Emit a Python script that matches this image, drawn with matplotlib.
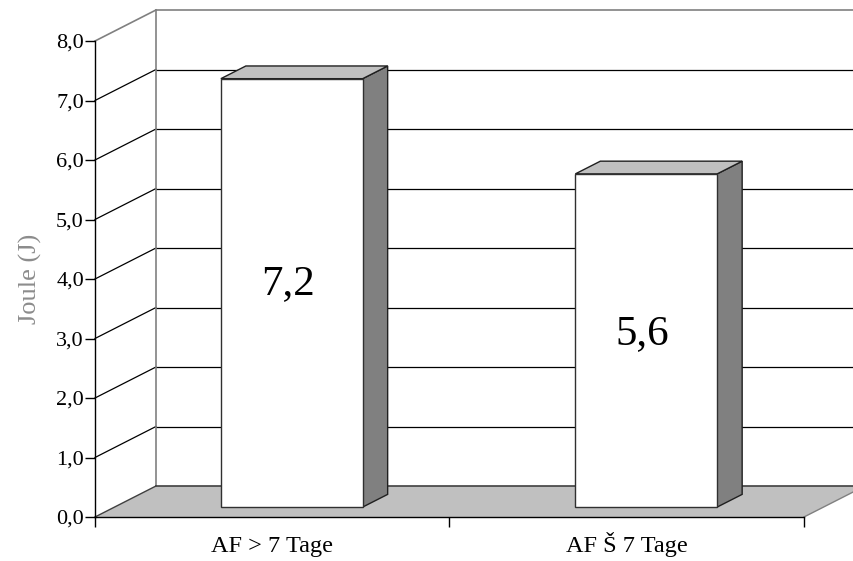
import numpy as np
import matplotlib
matplotlib.use("Agg")
import matplotlib.pyplot as plt
from matplotlib.patches import Polygon
from matplotlib.ticker import FuncFormatter

plt.rcParams['font.family'] = ['Liberation Serif', 'DejaVu Serif']

# Data
categories = ["AF > 7 Tage", "AF Š 7 Tage"]
values = [7.2, 5.6]
y_ticks = [0, 1, 2, 3, 4, 5, 6, 7, 8]
y_label = "Joule (J)"

# Pseudo-3D settings: depth shift in data units (x per category, y per value)
DX = 0.172
DY = 0.521
BAR_W = 0.40
Z_FRONT = 0.32
Z_BACK = 0.73

WALL_EDGE = '#808080'
FLOOR = '#c0c0c0'
BAR_TOP = '#c0c0c0'
BAR_SIDE = '#808080'


def proj(x, y, z):
    return x + z * DX, y + z * DY


def poly(ax, pts, face, edge, lw=1.0, z=1):
    ax.add_patch(Polygon(pts, closed=True, facecolor=face, edgecolor=edge,
                         linewidth=lw, zorder=z, clip_on=False))


fig = plt.figure(figsize=(8.54, 5.61), dpi=100)
ax = fig.add_axes([95 / 854, 44 / 561, 709 / 854, 476 / 561])
n = len(categories)
ymax = y_ticks[-1]
ax.set_xlim(0, n)
ax.set_ylim(0, ymax)

# back wall
bw = [proj(0, 0, 1), proj(n, 0, 1), proj(n, ymax, 1), proj(0, ymax, 1)]
poly(ax, bw, 'white', 'none', z=0.5)

# gridlines on back wall and diagonals on side wall
for t in y_ticks[1:-1]:
    x0, y0 = proj(0, t, 1)
    x1, y1 = proj(n, t, 1)
    ax.plot([x0, x1], [y0, y1], color='black', lw=0.9, zorder=0.6, clip_on=False)
    ax.plot([0, x0], [t, y0], color='black', lw=0.9, zorder=0.6, clip_on=False)

# top frame of the walls
x0, y0 = proj(0, ymax, 1)
x1, y1 = proj(n, ymax, 1)
ax.plot([x0, x1], [y0, y1], color=WALL_EDGE, lw=1.2, zorder=0.6, clip_on=False)
ax.plot([0, x0], [ymax, y0], color=WALL_EDGE, lw=1.2, zorder=0.6, clip_on=False)
xb, yb = proj(0, 0, 1)
ax.plot([xb, x0], [yb, y0], color=WALL_EDGE, lw=1.2, zorder=0.6, clip_on=False)

# floor
fl = [(0, 0), (n, 0), proj(n, 0, 1), proj(0, 0, 1)]
poly(ax, fl, FLOOR, 'none', z=0.7)
xr, yr = proj(n, 0, 1)
ax.plot([xb, xr], [yb, yr], color='#404040', lw=1.2, zorder=0.8, clip_on=False)
ax.plot([0, xb], [0, yb], color='#404040', lw=1.0, zorder=0.8, clip_on=False)
ax.plot([n, xr], [0, yr], color=WALL_EDGE, lw=1.0, zorder=0.8, clip_on=False)

# bars
for i, v in enumerate(values):
    c = i + 0.5
    l, r = c - BAR_W / 2, c + BAR_W / 2
    side = [proj(r, 0, Z_FRONT), proj(r, 0, Z_BACK), proj(r, v, Z_BACK), proj(r, v, Z_FRONT)]
    top = [proj(l, v, Z_FRONT), proj(r, v, Z_FRONT), proj(r, v, Z_BACK), proj(l, v, Z_BACK)]
    front = [proj(l, 0, Z_FRONT), proj(r, 0, Z_FRONT), proj(r, v, Z_FRONT), proj(l, v, Z_FRONT)]
    poly(ax, side, BAR_SIDE, '#202020', lw=1.0, z=2)
    poly(ax, top, BAR_TOP, '#202020', lw=1.0, z=2)
    poly(ax, front, 'white', '#303030', lw=1.0, z=2.1)
    tx, ty = proj(c - 0.01, v * 0.52, Z_FRONT)
    ax.text(tx, ty, f"{v:.1f}".replace('.', ','), ha='center', va='center',
            fontsize=31, zorder=3)

# axes
for s in ['top', 'right']:
    ax.spines[s].set_visible(False)
for s in ['left', 'bottom']:
    ax.spines[s].set_color('black')
    ax.spines[s].set_linewidth(1.0)
    ax.spines[s].set_zorder(2.5)

ax.set_yticks(y_ticks)
ax.yaxis.set_major_formatter(FuncFormatter(lambda v, p: f"{v:.1f}".replace('.', ',')))
ax.tick_params(axis='y', length=7, width=1, pad=1, labelsize=16)

ax.set_xticks(np.arange(n + 1))
ax.set_xticklabels([])
ax.set_xticks(np.arange(n) + 0.5, minor=True)
ax.set_xticklabels(categories, minor=True, fontsize=17.5)
ax.tick_params(axis='x', which='major', length=7, width=1)
ax.tick_params(axis='x', which='minor', length=0, pad=25)
for lab in ax.get_xticklabels(minor=True):
    lab.set_va('baseline')

ax.set_ylabel(y_label, color='#8c8c8c', fontsize=19, labelpad=10)

fig.savefig("out.png", dpi=100)
